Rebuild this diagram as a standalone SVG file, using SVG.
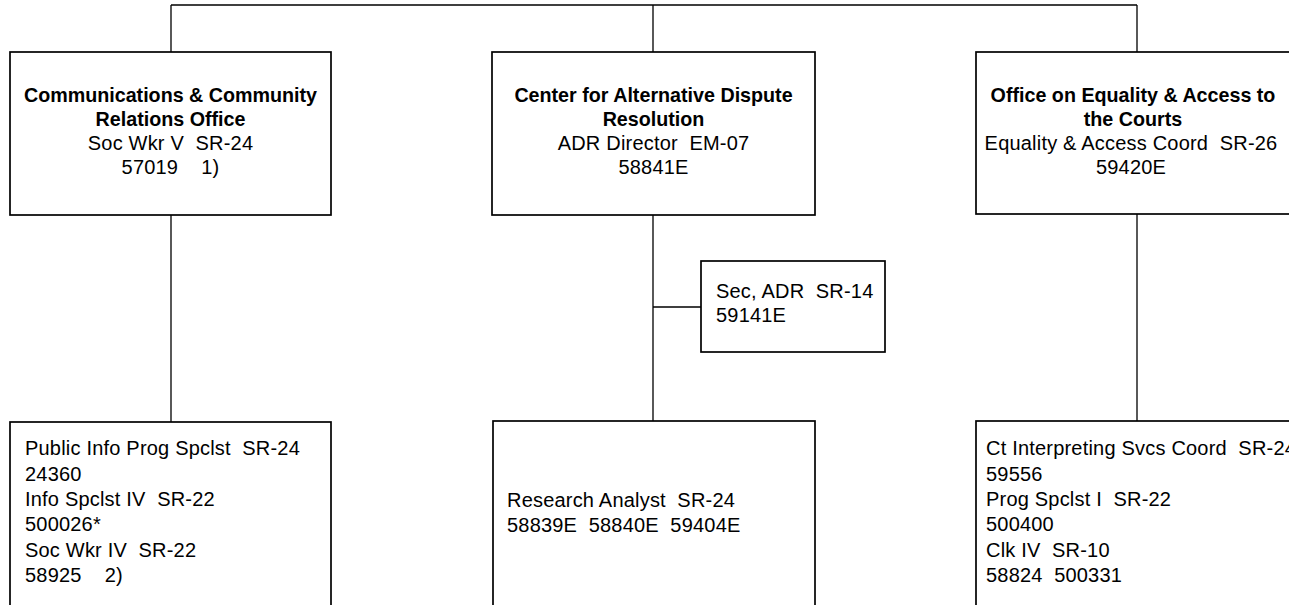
<svg xmlns="http://www.w3.org/2000/svg" width="1289" height="605" viewBox="0 0 1289 605">
<style>
.box{fill:#fff;stroke:#000;stroke-width:1.7}
.ln{fill:none;stroke:#000;stroke-width:1.3}
text{font-family:"Liberation Sans",Arial,sans-serif;font-size:20px;letter-spacing:0.2px;fill:#000}
.b{font-weight:bold;font-size:19.7px;letter-spacing:0}
.c{text-anchor:middle}
</style>
<rect width="1289" height="605" fill="#fff"/>
<g id="connectors">
<path class="ln" d="M171,5 H1137 M171,5 V52 M653,5 V52 M1137,5 V52"/>
<path class="ln" d="M171,215 V422 M653,215 V421 M1137,214 V421 M653,307 H701"/>
</g>
<g id="node-comm">
<rect class="box" x="10" y="52" width="321" height="163"/>
<text class="c b" x="170.5" y="102">Communications &amp; Community</text>
<text class="c b" x="170.5" y="126">Relations Office</text>
<text class="c" x="170.5" y="150" xml:space="preserve">Soc Wkr V  SR-24</text>
<text class="c" x="170.5" y="174" xml:space="preserve">57019    1)</text>
</g>
<g id="node-adr">
<rect class="box" x="492" y="52" width="323" height="163"/>
<text class="c b" x="653.5" y="102">Center for Alternative Dispute</text>
<text class="c b" x="653.5" y="126">Resolution</text>
<text class="c" x="653.5" y="150" xml:space="preserve">ADR Director  EM-07</text>
<text class="c" x="653.5" y="174">58841E</text>
</g>
<g id="node-equality">
<rect class="box" x="976" y="52" width="330" height="162"/>
<text class="c b" x="1133" y="102">Office on Equality &amp; Access to</text>
<text class="c b" x="1133" y="126">the Courts</text>
<text class="c" x="1131" y="150" xml:space="preserve">Equality &amp; Access Coord  SR-26</text>
<text class="c" x="1131" y="174">59420E</text>
</g>
<g id="node-sec">
<rect class="box" x="701" y="261" width="184" height="91"/>
<text x="716" y="298" xml:space="preserve">Sec, ADR  SR-14</text>
<text x="716" y="322">59141E</text>
</g>
<g id="node-comm-staff">
<rect class="box" x="10" y="422" width="321" height="200"/>
<text x="25" y="455" xml:space="preserve">Public Info Prog Spclst  SR-24</text>
<text x="25" y="481">24360</text>
<text x="25" y="506" xml:space="preserve">Info Spclst IV  SR-22</text>
<text x="25" y="531">500026*</text>
<text x="25" y="557" xml:space="preserve">Soc Wkr IV  SR-22</text>
<text x="25" y="582" xml:space="preserve">58925    2)</text>
</g>
<g id="node-adr-staff">
<rect class="box" x="493" y="421" width="322" height="200"/>
<text x="507" y="507" xml:space="preserve">Research Analyst  SR-24</text>
<text x="507" y="532" xml:space="preserve">58839E  58840E  59404E</text>
</g>
<g id="node-equality-staff">
<rect class="box" x="976" y="421" width="330" height="200"/>
<text x="986" y="455" xml:space="preserve">Ct Interpreting Svcs Coord  SR-24</text>
<text x="986" y="481">59556</text>
<text x="986" y="506" xml:space="preserve">Prog Spclst I  SR-22</text>
<text x="986" y="531">500400</text>
<text x="986" y="557" xml:space="preserve">Clk IV  SR-10</text>
<text x="986" y="582" xml:space="preserve">58824  500331</text>
</g>
</svg>
